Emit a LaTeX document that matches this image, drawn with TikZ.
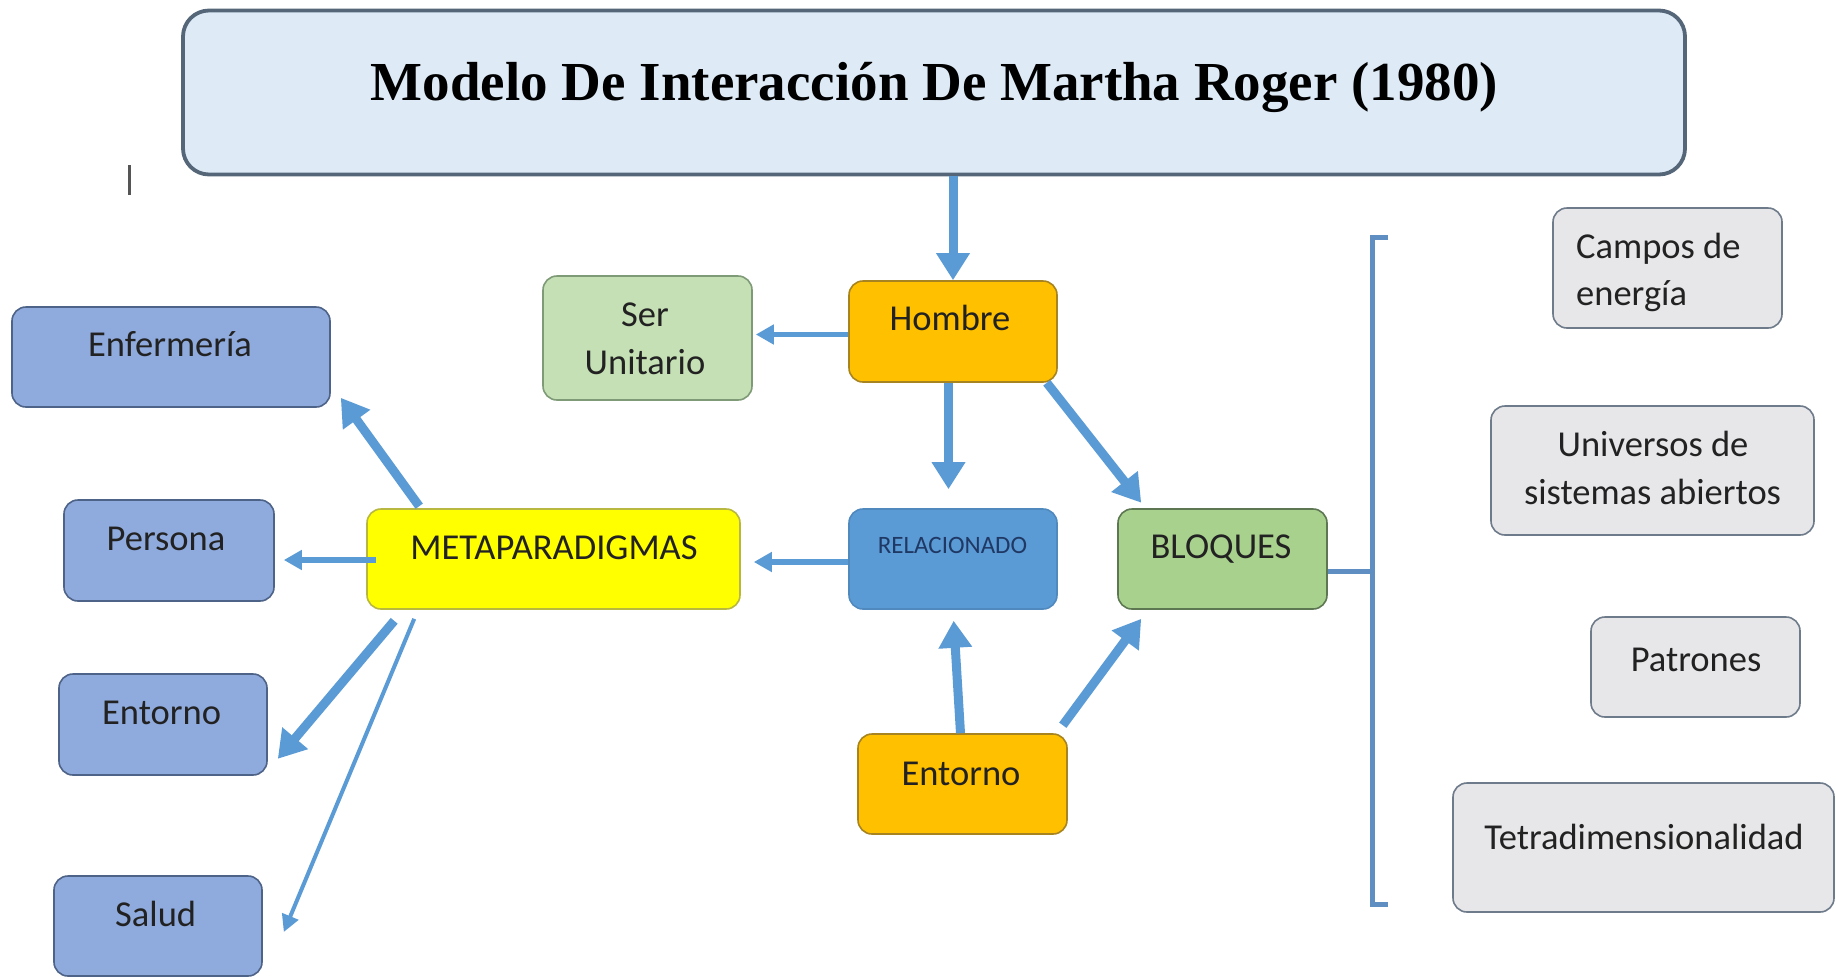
\documentclass[tikz,border=0pt]{standalone}
\usepackage{fontspec}
\setmainfont{Carlito}
\newfontfamily\titlefont{Liberation Serif}
\usetikzlibrary{arrows.meta,calc}
\definecolor{arrowblue}{HTML}{5B9BD5}
\definecolor{bracketblue}{HTML}{5F8FC2}
\definecolor{titlefill}{HTML}{DEEBF7}
\definecolor{titledraw}{HTML}{546678}
\definecolor{orangefill}{HTML}{FFC000}
\definecolor{orangedraw}{HTML}{A88420}
\definecolor{serfill}{HTML}{C5E0B4}
\definecolor{serdraw}{HTML}{7F9A77}
\definecolor{relfill}{HTML}{5B9BD5}
\definecolor{reldraw}{HTML}{4F89BE}
\definecolor{bloqfill}{HTML}{A9D18E}
\definecolor{bloqdraw}{HTML}{5D7752}
\definecolor{metafill}{HTML}{FFFF00}
\definecolor{metadraw}{HTML}{B8B840}
\definecolor{leftfill}{HTML}{8FAADC}
\definecolor{leftdraw}{HTML}{4E6388}
\definecolor{grayfill}{HTML}{E7E6E9}
\definecolor{graydraw}{HTML}{6E7B8A}
\definecolor{txt}{HTML}{222222}
\definecolor{navytxt}{HTML}{1F3864}
\definecolor{cursorgray}{HTML}{555555}
\tikzset{
  box/.style={rounded corners=14pt, line width=1.6pt, inner sep=0pt},
  lbl/.style={anchor=base, inner sep=0pt, text=txt, font=\fontsize{36.5}{44}\selectfont},
  smalllbl/.style={anchor=base, inner sep=0pt, text=navytxt, font=\fontsize{25}{30}\selectfont},
  bigarrow/.style={draw=arrowblue, line width=9pt, -{Triangle[length=27pt,width=32pt]}},
  thinarrow/.style={draw=arrowblue, line width=5.5pt, -{Triangle[length=18pt,width=19pt]}},
  finearrow/.style={draw=arrowblue, line width=4pt, -{Triangle[length=17pt,width=17pt]}},
  bracketline/.style={draw=bracketblue, line width=5pt}
}
\begin{document}
\begin{tikzpicture}[x=1pt,y=-1pt]
\fill[white] (0,0) rectangle (1836,978);
\useasboundingbox (0,0) rectangle (1836,978);

% title
\node[box, rounded corners=26pt, line width=3.8pt, draw=titledraw, fill=titlefill,
  minimum width=1502pt, minimum height=164pt] (title) at (934,92.5) {};
\node[anchor=base, inner sep=0pt, text=black, font=\titlefont\bfseries\fontsize{55}{60}\selectfont]
  (titletext) at (934.5,100) {Modelo De Interacción De Martha Roger (1980)};

% cursor mark
\coordinate (cura) at (129,165);
\coordinate (curb) at (129,195);
\draw[draw=cursorgray, line width=3pt] (cura) -- (curb);

% central boxes
\node[box, draw=orangedraw, fill=orangefill, minimum width=208pt, minimum height=101pt] (hombre) at (953,331.5) {};
\node[lbl] (hombret) at (950,330.5) {Hombre};

\node[box, draw=serdraw, fill=serfill, minimum width=209pt, minimum height=124pt] (ser) at (647.5,338) {};
\node[lbl] (sert1) at (645,326) {Ser};
\node[lbl] (sert2) at (645,374) {Unitario};

\node[box, draw=reldraw, fill=relfill, minimum width=208pt, minimum height=100pt] (rel) at (953,559) {};
\node[smalllbl] (relt) at (952.5,553.5) {RELACIONADO};

\node[box, draw=bloqdraw, fill=bloqfill, minimum width=209pt, minimum height=100pt] (bloq) at (1222.5,559) {};
\node[lbl] (bloqt) at (1221,558) {BLOQUES};

\node[box, draw=metadraw, fill=metafill, minimum width=373pt, minimum height=100pt] (meta) at (553.5,559) {};
\node[lbl] (metat) at (554,559) {METAPARADIGMAS};

\node[box, draw=orangedraw, fill=orangefill, minimum width=209pt, minimum height=100pt] (entc) at (962.5,784) {};
\node[lbl] (entct) at (961,785) {Entorno};

% left boxes
\node[box, draw=leftdraw, fill=leftfill, minimum width=318pt, minimum height=100pt] (enf) at (171,357) {};
\node[lbl] (enft) at (170,356) {Enfermería};

\node[box, draw=leftdraw, fill=leftfill, minimum width=210pt, minimum height=101pt] (pers) at (169,550.5) {};
\node[lbl] (perst) at (166,550.7) {Persona};

\node[box, draw=leftdraw, fill=leftfill, minimum width=208pt, minimum height=101pt] (entl) at (163,724.5) {};
\node[lbl] (entlt) at (161.6,724) {Entorno};

\node[box, draw=leftdraw, fill=leftfill, minimum width=208pt, minimum height=100pt] (salud) at (158,926) {};
\node[lbl] (saludt) at (155.7,926.5) {Salud};

% right boxes
\node[box, draw=graydraw, fill=grayfill, minimum width=229pt, minimum height=120pt] (campos) at (1667.5,268) {};
\node[lbl, anchor=base west] (campost1) at (1576,258) {Campos de};
\node[lbl, anchor=base west] (campost2) at (1576,305) {energía};

\node[box, draw=graydraw, fill=grayfill, minimum width=323pt, minimum height=129pt] (univ) at (1652.5,470.5) {};
\node[lbl] (univt1) at (1653,456) {Universos de};
\node[lbl] (univt2) at (1652.5,504) {sistemas abiertos};

\node[box, draw=graydraw, fill=grayfill, minimum width=209pt, minimum height=100pt] (patr) at (1695.5,667) {};
\node[lbl] (patrt) at (1696,671.6) {Patrones};

\node[box, draw=graydraw, fill=grayfill, minimum width=381pt, minimum height=129pt] (tetra) at (1643.5,847.5) {};
\node[lbl] (tetrat) at (1644,849.7) {Tetradimensionalidad};

% bracket
\coordinate (brtop) at (1372,237);
\coordinate (brbot) at (1372,904);
\coordinate (brtopr) at (1388,237);
\coordinate (brbotr) at (1388,904);
\coordinate (bmid) at ([yshift=-12pt]bloq.east);
\draw[bracketline] (brtopr) -- (brtop) -- (brbot) -- (brbotr);
\draw[bracketline] (bmid) -- (bmid -| brtop);

% connectors
\draw[bigarrow] (title.south -| hombre.north) -- (hombre.north);
\draw[thinarrow, shorten >=3pt] ([yshift=-3pt]hombre.west) -- ([yshift=-3pt]hombre.west -| ser.east);
\draw[bigarrow, shorten >=19pt] ([xshift=-4.5pt]hombre.south) -- ([xshift=-4.5pt]rel.north);
\draw[bigarrow] ([xshift=-11pt]hombre.south east) -- ([xshift=24pt,yshift=5.5pt]bloq.north west);
\draw[thinarrow, shorten >=13pt] ([yshift=-3pt]rel.west) -- ([yshift=-3pt]meta.east);
\draw[bigarrow, shorten >=11pt] ([xshift=-2pt]entc.north) -- (rel.south);
\draw[bigarrow] ([xshift=-5pt,yshift=8pt]entc.north east) -- ([xshift=24pt,yshift=-9pt]bloq.south west);
\draw[bigarrow] ([xshift=53pt,yshift=2pt]meta.north west) -- ([xshift=10pt,yshift=10pt]enf.south east);
\draw[thinarrow, shorten >=9pt] ([xshift=10pt,yshift=-1pt]meta.west) -- ([yshift=-1pt]meta.west -| pers.east);
\draw[bigarrow] ([xshift=28pt,yshift=-11pt]meta.south west) -- ([xshift=10pt,yshift=17pt]entl.south east);
\draw[finearrow] ([xshift=48pt,yshift=-9pt]meta.south west) -- ([xshift=21pt,yshift=-6pt]salud.east);
\end{tikzpicture}
\end{document}
